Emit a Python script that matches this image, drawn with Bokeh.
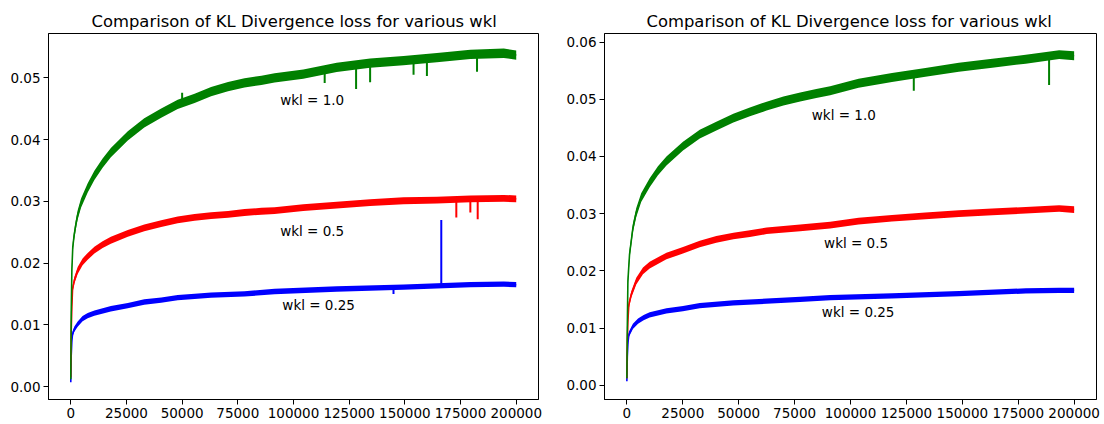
import numpy as np
from bokeh.plotting import figure
from bokeh.layouts import row
from bokeh.models import Range1d, FixedTicker, PrintfTickFormatter
from bokeh.embed import file_html
from bokeh.resources import INLINE
from bokeh.core.properties import value

TITLE = "Comparison of KL Divergence loss for various wkl"
FONT = "DejaVu Sans"
x_ticks = [0, 25000, 50000, 75000, 100000, 125000, 150000, 175000, 200000]
left_y_ticks = [0.0, 0.01, 0.02, 0.03, 0.04, 0.05]
right_y_ticks = [0.0, 0.01, 0.02, 0.03, 0.04, 0.05, 0.06]
labels = ["wkl = 1.0", "wkl = 0.5", "wkl = 0.25"]

# ---------------- left panel ----------------
L_green_x = [0, 200, 500, 900, 1500, 2300, 3100, 4600, 7600, 10600, 14300, 18000, 25600, 33000,
             40600, 48000, 55600, 63000, 70600, 78000, 85600, 91500, 104400, 119400, 134400,
             149400, 164400, 179400, 194400, 200000]
L_green_y = [0.0012, 0.012, 0.019, 0.0226, 0.0245, 0.0263, 0.0278, 0.0297, 0.0322, 0.0342, 0.0362,
             0.0379, 0.0406, 0.0427, 0.0443, 0.0457, 0.0467, 0.0478, 0.0486, 0.0492, 0.0496, 0.0500,
             0.0506, 0.0517, 0.0524, 0.0528, 0.0533, 0.0538, 0.0540, 0.0537]
L_green_spike_x = [50000, 114000, 128100, 134400, 153900, 159900, 182400]
L_green_spike_y = [0.0476, 0.0492, 0.0482, 0.0493, 0.0505, 0.0503, 0.0510]

L_red_x = [0, 200, 500, 800, 1600, 3100, 5300, 7600, 10600, 14300, 18000, 25600, 33000, 40600,
           48000, 55600, 63000, 70600, 78000, 85600, 91500, 104400, 119400, 134400, 149400,
           164400, 179400, 194400, 200000]
L_red_y = [0.0015, 0.009, 0.013, 0.0158, 0.0172, 0.0188, 0.0202, 0.0211, 0.0221, 0.0230, 0.0237,
           0.0248, 0.0257, 0.0264, 0.0270, 0.0274, 0.0277, 0.0279, 0.0282, 0.0284, 0.0285,
           0.0290, 0.0294, 0.0298, 0.0301, 0.0302, 0.0304, 0.0305, 0.0304]
L_red_spike_x = [173100, 179400, 182700]
L_red_spike_y = [0.0274, 0.0282, 0.0271]

L_blue_x = [0, 200, 500, 800, 1600, 3100, 5300, 7600, 10600, 18000, 25600, 33000, 40600, 48000,
            55600, 63000, 78000, 91500, 119400, 149400, 164400, 179400, 194400, 200000]
L_blue_y = [0.0007, 0.005, 0.0075, 0.0085, 0.0093, 0.0101, 0.0110, 0.0115, 0.0119, 0.0126,
            0.0131, 0.0137, 0.0140, 0.0144, 0.0146, 0.0148, 0.0150, 0.0154, 0.0158, 0.0161,
            0.0163, 0.0165, 0.0166, 0.0165]
L_blue_spike_x = [144900, 166350]
L_blue_spike_y = [0.0150, 0.0270]

L_noise = [0.00075, 0.00055, 0.00043]          # half-width of the noisy band: green, red, blue
L_label_x = [94000, 94000, 95000]
L_label_y = [0.0464, 0.0252, 0.0132]

# ---------------- right panel ----------------
R_green_x = [0, 200, 460, 1200, 2700, 4200, 6400, 10200, 13900, 17700, 25100, 32600, 40000, 47600,
             55000, 62500, 70000, 77500, 84700, 90900, 103600, 118550, 133500, 148450, 163400,
             178350, 193300, 200000]
R_green_y = [0.0012, 0.010, 0.0182, 0.0229, 0.0275, 0.0302, 0.0328, 0.0354, 0.0375, 0.0392,
             0.0418, 0.0439, 0.0453, 0.0467, 0.0478, 0.0488, 0.0497, 0.0504, 0.0510, 0.0515,
             0.0528, 0.0538, 0.0547, 0.0556, 0.0563, 0.0570, 0.0578, 0.0576]
R_green_spike_x = [128300, 188800]
R_green_spike_y = [0.0515, 0.0525]

R_red_x = [0, 200, 500, 900, 2000, 4200, 7200, 10200, 17700, 25100, 32600, 40000, 47600, 55000,
           62500, 77500, 90900, 103600, 118550, 133500, 148450, 163400, 178350, 193300, 200000]
R_red_y = [0.0012, 0.008, 0.0115, 0.0141, 0.0159, 0.0182, 0.0200, 0.0210, 0.0226, 0.0236, 0.0247,
           0.0255, 0.0261, 0.0265, 0.0270, 0.0275, 0.0280, 0.0287, 0.0292, 0.0296, 0.0300,
           0.0303, 0.0306, 0.0309, 0.0307]
R_red_spike_x = []
R_red_spike_y = []

R_blue_x = [0, 200, 500, 900, 2700, 5000, 7500, 10200, 17700, 25100, 32600, 47600, 62500, 77500,
            90900, 118550, 148450, 178350, 193300, 200000]
R_blue_y = [0.0007, 0.005, 0.0075, 0.0089, 0.0103, 0.0112, 0.0118, 0.0123, 0.0130, 0.0134,
            0.0139, 0.0144, 0.0147, 0.0150, 0.0153, 0.0156, 0.0160, 0.0165, 0.0166, 0.0166]
R_blue_spike_x = []
R_blue_spike_y = []

R_noise = [0.00078, 0.00058, 0.00046]
R_label_x = [82700, 88200, 87200]
R_label_y = [0.0473, 0.0248, 0.0128]

COLORS = ["#008000", "#ff0000", "#0000ff"]


def style(p, yticks, title_offset):
    p.title.text_font = FONT
    p.title.text_font_size = "16.4px"
    p.title.text_font_style = "normal"
    p.title.text_color = "#000000"
    p.title.align = "left"
    p.title.offset = title_offset
    p.title.standoff = 5
    p.xgrid.visible = False
    p.ygrid.visible = False
    p.outline_line_color = "#000000"
    p.outline_line_width = 1
    p.xaxis.ticker = FixedTicker(ticks=x_ticks)
    p.xaxis.formatter = PrintfTickFormatter(format="%d")
    p.yaxis.ticker = FixedTicker(ticks=yticks)
    p.yaxis.formatter = PrintfTickFormatter(format="%.2f")
    for ax in (p.xaxis, p.yaxis):
        ax.axis_line_color = "#000000"
        ax.major_tick_line_color = "#000000"
        ax.major_tick_in = 0
        ax.major_tick_out = 5
        ax.minor_tick_out = 0
        ax.minor_tick_in = 0
        ax.major_label_text_font = FONT
        ax.major_label_text_font_size = "13.5px"
        ax.major_label_text_color = "#000000"
        ax.major_label_standoff = 3


def panel(width, yr, yticks, series, noise, lab_x, lab_y, mbl, mbr, title_offset):
    p = figure(width=width, height=424, title=TITLE, output_backend="svg",
               toolbar_location=None, x_range=Range1d(-10000, 210000), y_range=yr,
               min_border_left=mbl, min_border_right=mbr, min_border_top=33,
               min_border_bottom=25)
    style(p, yticks, title_offset)
    for i in [2, 1, 0]:
        xs, ys, sx, sy = series[i]
        xs = np.array(xs, dtype=float)
        ys = np.array(ys, dtype=float)
        p.varea(x=xs, y1=ys - noise[i], y2=ys + noise[i], fill_color=COLORS[i])
        p.line(xs, ys, line_color=COLORS[i], line_width=1.6)
        if len(sx):
            base = np.interp(sx, xs, ys)
            p.segment(x0=sx, y0=base, x1=sx, y1=sy, line_color=COLORS[i], line_width=2)
    p.text(x=lab_x, y=lab_y, text=labels, text_font=value(FONT), text_font_size="13.5px",
           text_color="#000000", text_align="left", text_baseline="alphabetic")
    return p


left = panel(554, Range1d(-0.0021, 0.0572), left_y_ticks,
             [(L_green_x, L_green_y, L_green_spike_x, L_green_spike_y),
              (L_red_x, L_red_y, L_red_spike_x, L_red_spike_y),
              (L_blue_x, L_blue_y, L_blue_spike_x, L_blue_spike_y)],
             L_noise, L_label_x, L_label_y, 48, 16, 43)
right = panel(550, Range1d(-0.0025, 0.0615), right_y_ticks,
              [(R_green_x, R_green_y, R_green_spike_x, R_green_spike_y),
               (R_red_x, R_red_y, R_red_spike_x, R_red_spike_y),
               (R_blue_x, R_blue_y, R_blue_spike_x, R_blue_spike_y)],
              R_noise, R_label_x, R_label_y, 50, 8, 42)

layout = row(left, right)
open("out.html", "w").write(file_html(layout, INLINE))
